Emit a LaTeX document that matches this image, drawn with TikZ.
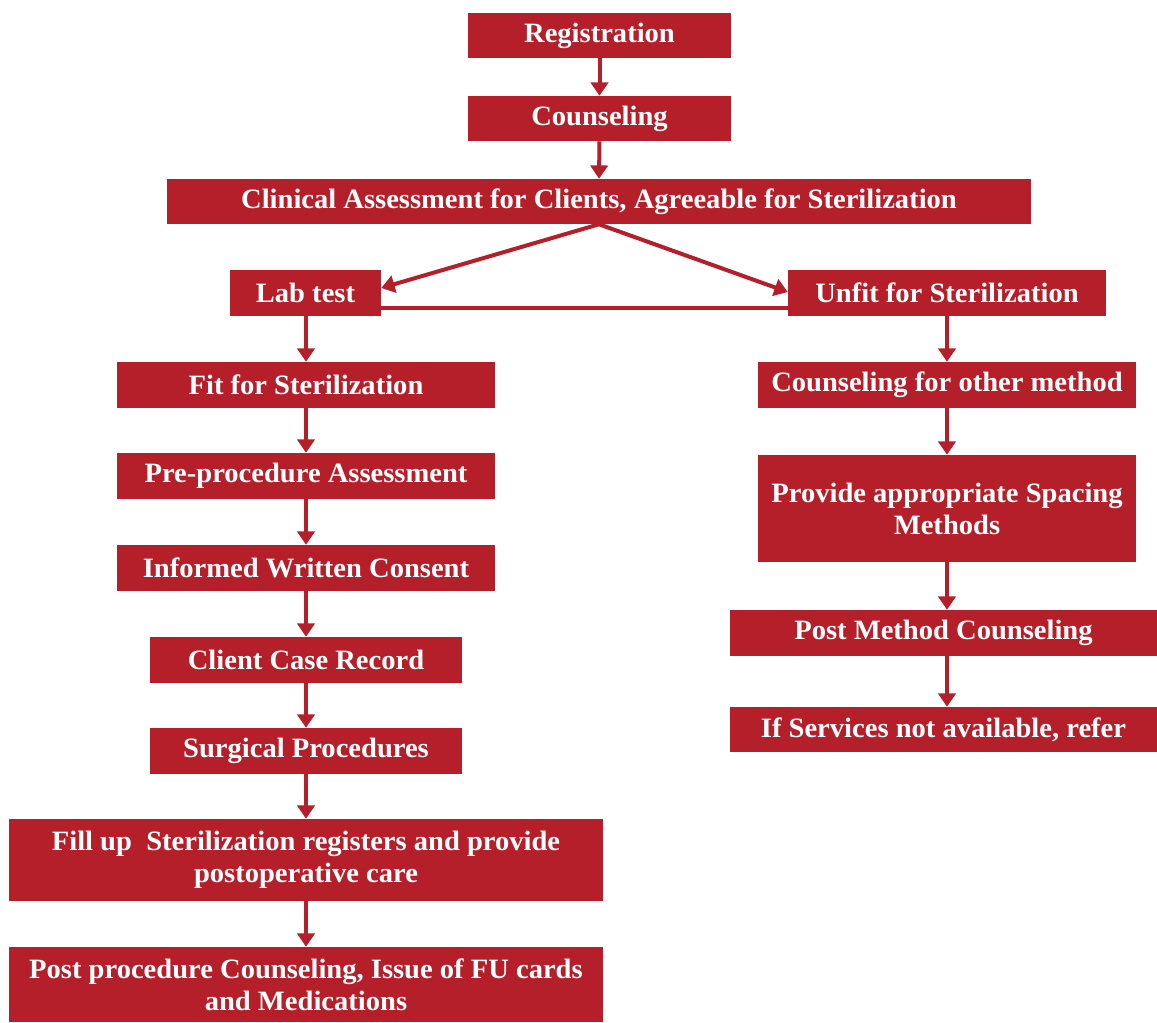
\documentclass[tikz,border=0pt]{standalone}
\usepackage{fontspec}
\setmainfont[FakeStretch=1.02]{Liberation Serif}
\usetikzlibrary{arrows.meta,calc}
\definecolor{boxred}{HTML}{B51F29}
\tikzset{
  box/.style={fill=boxred, text=white, inner sep=0pt, align=center,
    font=\fontsize{21}{24}\selectfont\bfseries},
  arr/.style={draw=boxred, line width=3pt,
    -{Triangle[width=13pt,length=10pt]}},
  link/.style={draw=boxred, line width=3pt}
}
\newcommand\mybox[6]{%
  \node[box, minimum width={(#4-#2)*0.75pt}, minimum height={(#5-#3)*0.75pt}]
    (#1) at ({(#2+#4)/2},{(#3+#5)/2}) {#6};}
\begin{document}
\begin{tikzpicture}[x=0.75pt,y=-0.75pt]
\useasboundingbox (0,0) rectangle (1157,1023);
\mybox{reg}{468}{13}{731}{58}{Registration}
\mybox{coun}{468}{96}{731}{141}{Counseling}
\mybox{clin}{167}{179}{1031}{224}{Clinical Assessment for Clients, Agreeable for Sterilization}
\mybox{lab}{230}{270}{381}{316}{Lab test}
\mybox{unfit}{788}{270}{1106}{316}{Unfit for Sterilization}
\mybox{fit}{117}{362}{495}{408}{Fit for Sterilization}
\mybox{pre}{117}{453}{495}{499}{Pre-procedure Assessment}
\mybox{inf}{117}{545}{495}{591}{Informed Written Consent}
\mybox{ccr}{150}{637}{462}{683}{Client Case Record}
\mybox{surg}{150}{728}{462}{774}{Surgical Procedures}
\mybox{fill}{9}{819}{603}{901}{Fill up\ \ Sterilization registers and provide\\postoperative care}
\mybox{post}{9}{947}{603}{1022}{Post procedure Counseling, Issue of FU cards\\and Medications}
\mybox{cfo}{758}{362}{1136}{408}{Counseling for other method}
\mybox{prov}{758}{455}{1136}{562}{Provide appropriate Spacing\\Methods}
\mybox{pmc}{730}{610}{1157}{656}{Post Method Counseling}
\mybox{ifs}{730}{707}{1157}{752}{If Services not available, refer}

\draw[arr] (reg.south) -- (coun.north);
\draw[arr] (coun.south) -- (clin.north);
\draw[arr] (clin.south) -- ($(lab.east)+(0,-5)$);
\draw[arr] (clin.south) -- ($(unfit.west)+(0,-1)$);
\draw[link] ($(lab.south east)+(0,-8)$) -- ($(unfit.south west)+(0,-8)$);
\draw[arr] (lab.south -| fit.north) -- (fit.north);
\draw[arr] (fit.south) -- (pre.north);
\draw[arr] (pre.south) -- (inf.north);
\draw[arr] (inf.south) -- (ccr.north);
\draw[arr] (ccr.south) -- (surg.north);
\draw[arr] (surg.south) -- (fill.north);
\draw[arr] (fill.south) -- (post.north);
\draw[arr] (unfit.south) -- (cfo.north);
\draw[arr] (cfo.south) -- (prov.north);
\draw[arr] (prov.south) -- (pmc.north -| prov.south);
\draw[arr] (pmc.south -| prov.south) -- (ifs.north -| prov.south);
\end{tikzpicture}
\end{document}
